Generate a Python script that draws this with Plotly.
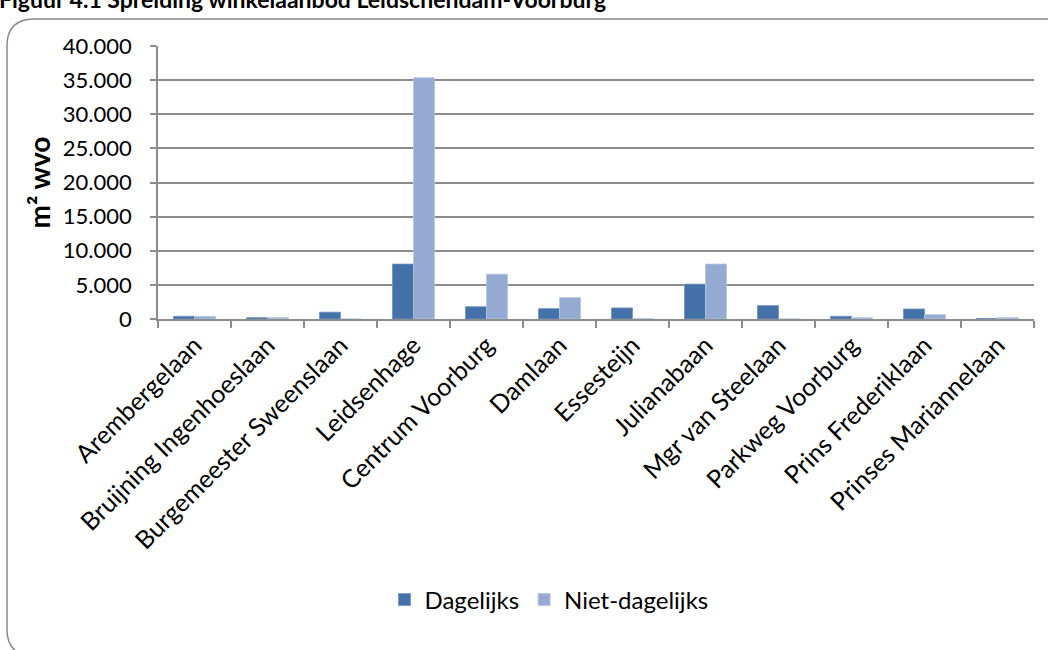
import plotly.graph_objects as go

# Winkelaanbod per winkelgebied (m² wvo)
categories = [
    "Arembergelaan", "Bruijning Ingenhoeslaan", "Burgemeester Sweenslaan",
    "Leidsenhage", "Centrum Voorburg", "Damlaan", "Essesteijn",
    "Julianabaan", "Mgr van Steelaan", "Parkweg Voorburg",
    "Prins Frederiklaan", "Prinses Mariannelaan",
]
dagelijks = [400, 200, 1000, 8050, 1800, 1520, 1620, 5100, 1960, 400, 1470, 80]
niet_dagelijks = [380, 200, 0, 35350, 6570, 3130, 60, 8050, 0, 200, 640, 200]
y_ticks = [0, 5000, 10000, 15000, 20000, 25000, 30000, 35000, 40000]

W, H = 1048, 650
L, R, T, B = 158, 1034, 46, 319  # plot area in pixels
FONT = "Lato"
GRID = "#8c8c8c"


def px(x):
    return (x - L) / (R - L)


def py(y):
    return (B - y) / (B - T)


fig = go.Figure()
fig.add_trace(go.Bar(
    name="Dagelijks", x=categories, y=dagelijks,
    marker=dict(color="#4472a8", line=dict(color="#6f93c2", width=0.8)),
))
fig.add_trace(go.Bar(
    name="Niet-dagelijks", x=categories, y=niet_dagelijks,
    marker=dict(color="#94aad2", line=dict(color="#b5c6e3", width=0.8)),
))

# rounded frame around the chart
fl, ft, fr, fb, r = 7, 19, 1070, 656, 27
frame = (
    f"M {px(fl + r)},{py(ft)} L {px(fr)},{py(ft)} L {px(fr)},{py(fb)} "
    f"L {px(fl + r)},{py(fb)} Q {px(fl)},{py(fb)} {px(fl)},{py(fb - r)} "
    f"L {px(fl)},{py(ft + r)} Q {px(fl)},{py(ft)} {px(fl + r)},{py(ft)} Z"
)

fig.update_layout(
    width=W, height=H,
    margin=dict(l=L, r=W - R, t=T, b=H - B),
    paper_bgcolor="white", plot_bgcolor="white",
    separators=",.",
    font=dict(family=FONT, size=21, color="#000000"),
    barmode="group", bargap=0.425, bargroupgap=0,
    showlegend=True,
    legend=dict(
        orientation="h", x=px(549), xanchor="center",
        y=py(600), yanchor="middle",
        font=dict(family=FONT, size=24), bgcolor="rgba(0,0,0,0)",
        traceorder="normal",
    ),
    shapes=[dict(
        type="path", xref="paper", yref="paper", path=frame,
        line=dict(color="#8a8a8a", width=1.5), layer="below",
    )],
    annotations=[dict(
        text="<b>Figuur 4.1 Spreiding winkelaanbod Leidschendam-Voorburg</b>",
        xref="paper", yref="paper", x=px(-3), y=py(15),
        xanchor="left", yanchor="bottom", showarrow=False,
        font=dict(family=FONT, size=23, color="#000000"),
    )],
)

fig.update_xaxes(
    type="category", tickangle=-45, tickson="boundaries",
    ticks="outside", ticklen=7, tickwidth=1.5, tickcolor=GRID,
    showline=True, linecolor=GRID, linewidth=1.5,
    showgrid=False, tickfont=dict(family=FONT, size=25),
)
fig.update_yaxes(
    range=[0, 40000], tickvals=y_ticks, tickformat=",d",
    ticks="outside", ticklen=6, tickwidth=1.5, tickcolor=GRID,
    showline=True, linecolor=GRID, linewidth=1.5,
    showgrid=True, gridcolor=GRID, gridwidth=1.5, zeroline=False,
    tickfont=dict(family=FONT, size=22), ticklabelstandoff=14,
    title=dict(text="<b>m² wvo</b>", font=dict(family=FONT, size=28), standoff=4),
)

fig.write_html("out.html")
